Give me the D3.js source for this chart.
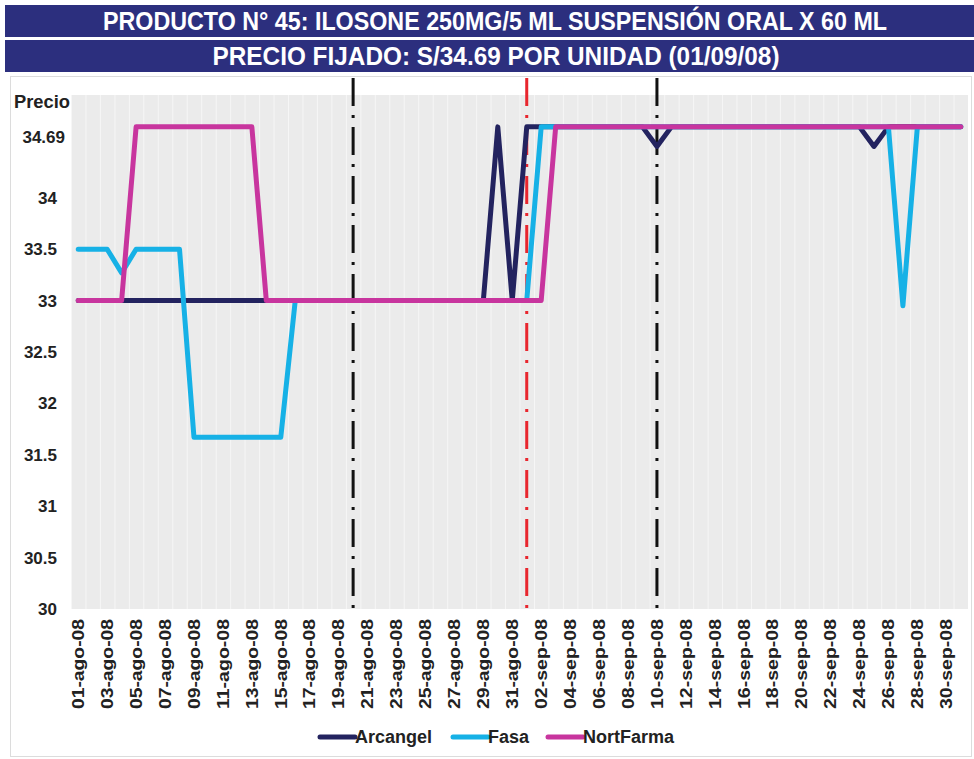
<!DOCTYPE html>
<html>
<head>
<meta charset="utf-8">
<script src="https://cdn.jsdelivr.net/npm/d3@7/dist/d3.min.js"></script>
<style>
  html, body { margin: 0; padding: 0; background: #ffffff; }
  svg { display: block; }
</style>
</head>
<body>
<svg id="chart" width="974" height="759"></svg>
<script>
// ---------------- DATA ----------------
const titleLine1 = "PRODUCTO N° 45: ILOSONE 250MG/5 ML SUSPENSIÓN ORAL X 60 ML";
const titleLine2 = "PRECIO FIJADO: S/34.69 POR UNIDAD (01/09/08)";
const yAxisTitle = "Precio";

const categories = [
  "01-ago-08","02-ago-08","03-ago-08","04-ago-08","05-ago-08","06-ago-08","07-ago-08","08-ago-08","09-ago-08","10-ago-08",
  "11-ago-08","12-ago-08","13-ago-08","14-ago-08","15-ago-08","16-ago-08","17-ago-08","18-ago-08","19-ago-08","20-ago-08",
  "21-ago-08","22-ago-08","23-ago-08","24-ago-08","25-ago-08","26-ago-08","27-ago-08","28-ago-08","29-ago-08","30-ago-08",
  "31-ago-08","01-sep-08","02-sep-08","03-sep-08","04-sep-08","05-sep-08","06-sep-08","07-sep-08","08-sep-08","09-sep-08",
  "10-sep-08","11-sep-08","12-sep-08","13-sep-08","14-sep-08","15-sep-08","16-sep-08","17-sep-08","18-sep-08","19-sep-08",
  "20-sep-08","21-sep-08","22-sep-08","23-sep-08","24-sep-08","25-sep-08","26-sep-08","27-sep-08","28-sep-08","29-sep-08",
  "30-sep-08","01-oct-08"
];

const xTickLabels = [
  "01-ago-08","03-ago-08","05-ago-08","07-ago-08","09-ago-08","11-ago-08","13-ago-08","15-ago-08",
  "17-ago-08","19-ago-08","21-ago-08","23-ago-08","25-ago-08","27-ago-08","29-ago-08","31-ago-08",
  "02-sep-08","04-sep-08","06-sep-08","08-sep-08","10-sep-08","12-sep-08","14-sep-08","16-sep-08",
  "18-sep-08","20-sep-08","22-sep-08","24-sep-08","26-sep-08","28-sep-08","30-sep-08"
];

const arcangel = [
  33,33,33,33,33,33,33,33,33,33,
  33,33,33,33,33,33,33,33,33,33,
  33,33,33,33,33,33,33,33,33,34.69,
  33,34.69,34.69,34.69,34.69,34.69,34.69,34.69,34.69,34.69,
  34.5,34.69,34.69,34.69,34.69,34.69,34.69,34.69,34.69,34.69,
  34.69,34.69,34.69,34.69,34.69,34.5,34.69,34.69,34.69,34.69,
  34.69,34.69
];

const fasa = [
  33.5,33.5,33.5,33.27,33.5,33.5,33.5,33.5,31.67,31.67,
  31.67,31.67,31.67,31.67,31.67,33,33,33,33,33,
  33,33,33,33,33,33,33,33,33,33,
  33,33,34.69,34.69,34.69,34.69,34.69,34.69,34.69,34.69,
  34.69,34.69,34.69,34.69,34.69,34.69,34.69,34.69,34.69,34.69,
  34.69,34.69,34.69,34.69,34.69,34.69,34.69,32.95,34.69,34.69,
  34.69,34.69
];

const nortfarma = [
  33,33,33,33,34.69,34.69,34.69,34.69,34.69,34.69,
  34.69,34.69,34.69,33,33,33,33,33,33,33,
  33,33,33,33,33,33,33,33,33,33,
  33,33,33,34.69,34.69,34.69,34.69,34.69,34.69,34.69,
  34.69,34.69,34.69,34.69,34.69,34.69,34.69,34.69,34.69,34.69,
  34.69,34.69,34.69,34.69,34.69,34.69,34.69,34.69,34.69,34.69,
  34.69,34.69
];

const seriesNames = ["Arcangel", "Fasa", "NortFarma"];
const seriesColors = ["#23235f", "#16b1e6", "#c8359e"];

const yTickValues = [30, 30.5, 31, 31.5, 32, 32.5, 33, 33.5, 34];
const yTickLabels = ["30", "30.5", "31", "31.5", "32", "32.5", "33", "33.5", "34"];
const fixedPrice = 34.69;
const fixedPriceLabel = "34.69";

const markerDates = ["20-ago-08", "01-sep-08", "10-sep-08"];
const markerColors = ["#111111", "#e8262e", "#111111"];

// ---------------- LAYOUT ----------------
const svg = d3.select("#chart");
const W = 974, H = 759;
const plot = { left: 71, right: 968, top: 95, bottom: 609 };
const font = "'Liberation Sans', Arial, sans-serif";
const narrow = "'Liberation Sans Narrow', 'Arial Narrow', 'Liberation Sans', sans-serif";

const x = d3.scalePoint().domain(categories).range([plot.left, plot.right]).padding(0.5);
const y = d3.scaleLinear().domain([30, 35]).range([plot.bottom, plot.top]);

// outer frame
svg.append("rect")
  .attr("x", 10.5).attr("y", 76.5).attr("width", W - 13).attr("height", H - 79)
  .attr("fill", "#ffffff").attr("stroke", "#b8b8b8").attr("stroke-width", 1)
  .attr("stroke-dasharray", "1,1");

// title bars
const titleColor = "#2c2f7e";
svg.append("rect").attr("x", 5).attr("y", 5).attr("width", W - 5).attr("height", 32).attr("fill", titleColor);
svg.append("rect").attr("x", 5).attr("y", 40).attr("width", W - 5).attr("height", 32).attr("fill", titleColor);
svg.append("text")
  .attr("x", 495).attr("y", 30)
  .attr("text-anchor", "middle")
  .attr("textLength", 784).attr("lengthAdjust", "spacingAndGlyphs")
  .attr("font-family", narrow)
  .attr("font-weight", "bold").attr("font-size", 25).attr("fill", "#ffffff")
  .text(titleLine1);
svg.append("text")
  .attr("x", 496).attr("y", 65)
  .attr("text-anchor", "middle")
  .attr("textLength", 567).attr("lengthAdjust", "spacingAndGlyphs")
  .attr("font-family", narrow)
  .attr("font-weight", "bold").attr("font-size", 25).attr("fill", "#ffffff")
  .text(titleLine2);

// plot background
svg.append("rect")
  .attr("x", plot.left).attr("y", plot.top)
  .attr("width", plot.right - plot.left).attr("height", plot.bottom - plot.top)
  .attr("fill", "#ebebeb");

// faint vertical stripes
const step = x.step();
svg.append("g").selectAll("line")
  .data(categories)
  .join("line")
  .attr("x1", d => x(d) - step / 2 + 0.5).attr("x2", d => x(d) - step / 2 + 0.5)
  .attr("y1", plot.top).attr("y2", plot.bottom)
  .attr("stroke", "#f6f6f6").attr("stroke-width", 1);

// y axis labels
svg.append("g").selectAll("text")
  .data(yTickValues)
  .join("text")
  .attr("x", 57).attr("y", d => y(d))
  .attr("dy", "0.35em")
  .attr("text-anchor", "end")
  .attr("font-family", font).attr("font-weight", "bold").attr("font-size", 17)
  .attr("fill", "#222")
  .text((d, i) => yTickLabels[i]);

svg.append("text")
  .attr("x", 65).attr("y", y(fixedPrice) + 16)
  .attr("text-anchor", "end")
  .attr("font-family", font).attr("font-weight", "bold").attr("font-size", 17)
  .attr("fill", "#222")
  .text(fixedPriceLabel);

svg.append("text")
  .attr("x", 14).attr("y", 108)
  .attr("textLength", 56).attr("lengthAdjust", "spacingAndGlyphs")
  .attr("font-family", font).attr("font-weight", "bold").attr("font-size", 18)
  .attr("fill", "#222")
  .text(yAxisTitle);

// x axis labels
svg.append("g").selectAll("text")
  .data(xTickLabels)
  .join("text")
  .attr("transform", d => `translate(${x(d)},619) rotate(-90)`)
  .attr("dy", "0.36em")
  .attr("text-anchor", "end")
  .attr("textLength", 90).attr("lengthAdjust", "spacingAndGlyphs")
  .attr("font-family", font).attr("font-weight", "bold").attr("font-size", 16)
  .attr("fill", "#222")
  .text(d => d);

// vertical dash-dot markers
svg.append("g").selectAll("line")
  .data(markerDates)
  .join("line")
  .attr("x1", d => x(d)).attr("x2", d => x(d))
  .attr("y1", 78).attr("y2", 612)
  .attr("stroke", (d, i) => markerColors[i])
  .attr("stroke-width", 3)
  .attr("stroke-dasharray", "28,9,3,9");

// series lines
const allSeries = [arcangel, fasa, nortfarma];
const line = d3.line()
  .x((d, i) => x(categories[i]))
  .y(d => y(d));

svg.append("g").selectAll("path")
  .data(allSeries)
  .join("path")
  .attr("d", d => line(d))
  .attr("fill", "none")
  .attr("stroke", (d, i) => seriesColors[i])
  .attr("stroke-width", 5)
  .attr("stroke-linejoin", "round")
  .attr("stroke-linecap", "round");

// legend
const legendItems = [
  { name: seriesNames[0], color: seriesColors[0], x: 320 },
  { name: seriesNames[1], color: seriesColors[1], x: 453 },
  { name: seriesNames[2], color: seriesColors[2], x: 548 }
];
const lg = svg.append("g");
legendItems.forEach(it => {
  lg.append("line")
    .attr("x1", it.x).attr("x2", it.x + 35)
    .attr("y1", 737).attr("y2", 737)
    .attr("stroke", it.color).attr("stroke-width", 5).attr("stroke-linecap", "round");
  lg.append("text")
    .attr("x", it.x + 35).attr("y", 737).attr("dy", "0.35em")
    .attr("font-family", font).attr("font-weight", "bold").attr("font-size", 18)
    .attr("fill", "#222")
    .text(it.name);
});
</script>
</body>
</html>
